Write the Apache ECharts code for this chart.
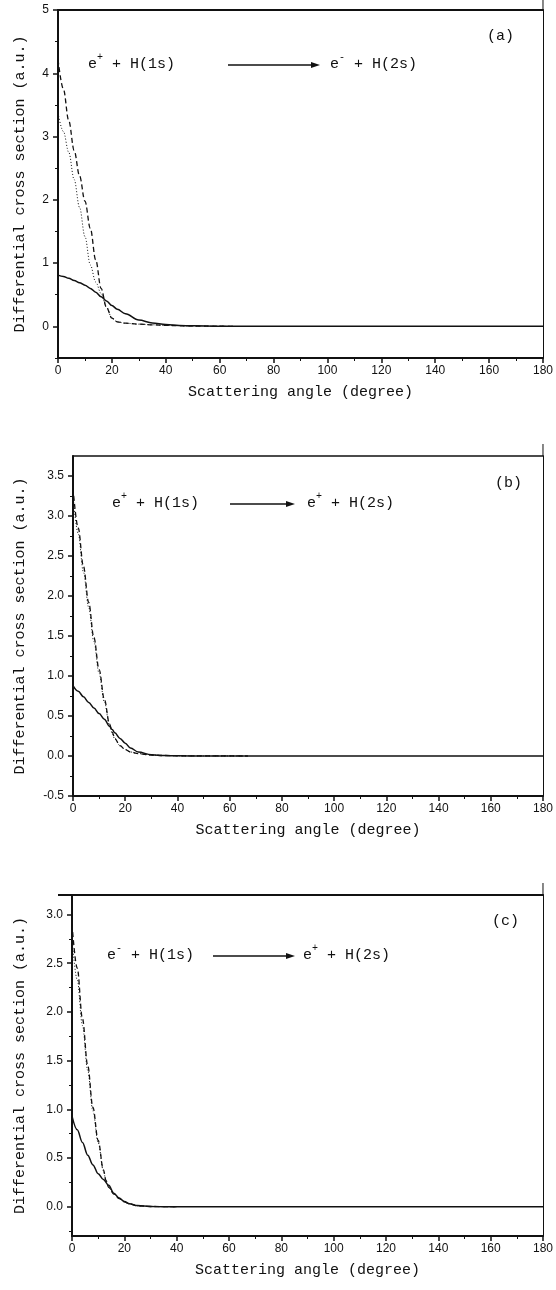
<!DOCTYPE html>
<html><head><meta charset="utf-8">
<script src="https://cdn.jsdelivr.net/npm/echarts@6/dist/echarts.min.js"></script>
<style>html,body{margin:0;padding:0;background:#fff}#c{width:556px;height:1290px}</style>
</head><body><div id="c"></div><script>
// ---------- DATA ----------
// Panel (a): e+ + H(1s) -> e- + H(2s)
const aAngle = [0,2,4,6,8,10,12,14,16,18,20,22,25,30,35,40,45,50,60,70,80,100,120,140,160,180];
const aSolid = [0.81,0.79,0.76,0.725,0.69,0.65,0.60,0.54,0.47,0.40,0.33,0.27,0.20,0.10,0.055,0.03,0.015,0.008,0.002,0,0,0,0,0,0,0];
const aAngleShort = [0,2,4,6,8,10,12,14,16,18,20,22,25,30,35,40,50,60,65];
const aDashed = [4.22,3.75,3.25,2.78,2.38,1.98,1.55,1.05,0.60,0.30,0.13,0.07,0.05,0.035,0.025,0.015,0.006,0.002,0];
const aDotted = [3.37,3.08,2.75,2.32,1.88,1.42,0.97,0.70,0.52,0.30,0.13,0.07,0.05,0.035,0.025,0.015,0.006,0.002,0];
const aYMajor = [0,1,2,3,4,5];
const aYMinor = [-0.5,0.5,1.5,2.5,3.5,4.5];

// Panel (b): e+ + H(1s) -> e+ + H(2s)
const bAngle = [0,2,4,6,8,10,12,14,15,16,18,20,22,25,30,35,40,50,60,80,100,120,140,160,180];
const bSolid = [0.88,0.81,0.74,0.67,0.60,0.53,0.46,0.37,0.33,0.29,0.22,0.16,0.10,0.05,0.015,0.006,0.002,0,0,0,0,0,0,0,0];
const bAngleShort = [0,2,4,6,8,10,12,14,15,16,18,20,22,25,30,35,40,50,67];
const bDashed = [3.35,2.85,2.37,1.92,1.48,1.08,0.71,0.40,0.30,0.22,0.13,0.08,0.05,0.03,0.012,0.006,0.003,0.001,0];
const bDotted = [3.25,2.78,2.30,1.86,1.43,1.03,0.68,0.38,0.29,0.21,0.13,0.08,0.05,0.03,0.012,0.006,0.003,0.001,0];
const bYMajor = [-0.5,0,0.5,1,1.5,2,2.5,3,3.5];
const bYMinor = [-0.25,0.25,0.75,1.25,1.75,2.25,2.75,3.25];

// Panel (c): e- + H(1s) -> e+ + H(2s)
const cAngle = [0,2,4,6,8,10,12,14,16,18,20,22,25,30,35,40,60,80,100,120,140,160,180];
const cSolid = [0.93,0.79,0.66,0.53,0.43,0.34,0.28,0.22,0.14,0.09,0.055,0.03,0.012,0.003,0,0,0,0,0,0,0,0,0];
const cAngleShort = [0,2,4,6,8,10,12,13,14,16,18,20,22,25,30,40];
const cDashed = [2.90,2.45,1.93,1.45,1.02,0.68,0.38,0.27,0.20,0.13,0.085,0.05,0.028,0.01,0.003,0];
const cDotted = [2.75,2.33,1.86,1.40,0.98,0.66,0.37,0.27,0.20,0.13,0.085,0.05,0.028,0.01,0.003,0];
const cYMajor = [0,0.5,1,1.5,2,2.5,3];
const cYMinor = [-0.25,0.25,0.75,1.25,1.75,2.25,2.75];

const xTicks = [0,20,40,60,80,100,120,140,160,180];
const xTitle = 'Scattering angle (degree)';
const yTitle = 'Differential cross section (a.u.)';
const panelLabels = ['(a)','(b)','(c)'];

// ---------- LAYOUT ----------
const panels = [
  {grid:{left:58, top:10, width:487, height:348}, yMin:-0.5, yMax:5, yInt:0.5, major:aYMajor, minor:aYMinor, digits:0, yGap:30, topW:2,
   x:aAngle, s:aSolid, xs:aAngleShort, d:aDashed, o:aDotted},
  {grid:{left:73, top:456, width:472, height:340}, yMin:-0.5, yMax:3.75, yInt:0.25, major:bYMajor, minor:bYMinor, digits:1, yGap:45, topW:1.5,
   x:bAngle, s:bSolid, xs:bAngleShort, d:bDashed, o:bDotted},
  {grid:{left:72, top:895, width:473, height:341}, yMin:-0.3, yMax:3.2, yInt:0.1, major:cYMajor, minor:cYMinor, digits:1, yGap:44, topW:2,
   x:cAngle, s:cSolid, xs:cAngleShort, d:cDashed, o:cDotted}
];

const monoFont = '"Liberation Mono", "DejaVu Sans Mono", monospace';
const sansFont = '"Liberation Sans", Arial, sans-serif';
const ink = '#111';

const grid = [], xAxis = [], yAxis = [], series = [];
panels.forEach((p, i) => {
  grid.push(Object.assign({containLabel:false}, p.grid));
  xAxis.push({
    gridIndex:i, type:'value', min:0, max:180, interval:20, position:'bottom',
    name:xTitle, nameLocation:'middle', nameGap:27,
    nameTextStyle:{fontFamily:monoFont, fontSize:15, color:ink},
    axisLine:{show:true, onZero:false, lineStyle:{color:ink, width:2}},
    axisTick:{show:true, length:5, lineStyle:{color:ink, width:1.5}},
    minorTick:{show:true, splitNumber:2, length:3, lineStyle:{color:ink, width:1}},
    axisLabel:{fontFamily:sansFont, fontSize:12, color:ink, margin:7},
    splitLine:{show:false}
  });
  xAxis.push({
    gridIndex:i, type:'value', min:0, max:180, position:'top',
    axisLine:{show:true, onZero:false, lineStyle:{color:ink, width:p.topW}},
    axisTick:{show:false}, axisLabel:{show:false}, splitLine:{show:false}
  });
  yAxis.push({
    gridIndex:i, type:'value', min:p.yMin, max:p.yMax, interval:p.yInt, position:'left',
    name:yTitle, nameLocation:'middle', nameGap:p.yGap,
    nameTextStyle:{fontFamily:monoFont, fontSize:15, color:ink},
    axisLine:{show:true, onZero:false, lineStyle:{color:ink, width:2}},
    axisTick:{show:true, length:5, customValues:p.major, lineStyle:{color:ink, width:1.5}},
    axisLabel:{fontFamily:sansFont, fontSize:12, color:ink, margin:9, customValues:p.major,
      formatter:(v)=>Number(v).toFixed(p.digits)},
    splitLine:{show:false}
  });
  yAxis.push({
    gridIndex:i, type:'value', min:p.yMin, max:p.yMax, interval:p.yInt, position:'left',
    axisLine:{show:false},
    axisTick:{show:true, length:3, customValues:p.minor, lineStyle:{color:ink, width:1}},
    axisLabel:{show:false}, splitLine:{show:false}
  });
  yAxis.push({
    gridIndex:i, type:'value', min:p.yMin, max:p.yMax, interval:p.yInt, position:'right',
    axisLine:{show:true, onZero:false, lineStyle:{color:ink, width:1}},
    axisTick:{show:false}, axisLabel:{show:false}, splitLine:{show:false}
  });
  const xi = 2*i, yi = 3*i;
  const common = {type:'line', xAxisIndex:xi, yAxisIndex:yi, showSymbol:false, smooth:0.35, smoothMonotone:'x', silent:true};
  series.push(Object.assign({}, common, {name:'dotted'+i, z:2,
    data:p.xs.map((x,k)=>[x,p.o[k]]), lineStyle:{color:ink, width:1, type:[1,2]}}));
  series.push(Object.assign({}, common, {name:'dashed'+i, z:3,
    data:p.xs.map((x,k)=>[x,p.d[k]]), lineStyle:{color:ink, width:1.3, type:[5,3]}}));
  series.push(Object.assign({}, common, {name:'solid'+i, z:4,
    data:p.x.map((x,k)=>[x,p.s[k]]), lineStyle:{color:ink, width:1.5}}));
});

const chart = echarts.init(document.getElementById('c'), null, {renderer:'canvas'});
chart.setOption({animation:false, backgroundColor:'#fff', grid, xAxis, yAxis, series});

// ---------- ANNOTATIONS ----------
const eqFont = '15px ' + monoFont;
const supFont = '10px ' + monoFont;
function eq(x0, y, left, sup1, mid1, a0, a1, x2, sup2, mid2) {
  const g = [];
  const t = (x, yy, txt, f) => g.push({type:'text', x:x, y:yy, silent:true,
    style:{text:txt, font:f, fill:ink, textVerticalAlign:'middle', textAlign:'left'}});
  t(x0, y, 'e', eqFont);
  t(x0+9, y-7, sup1, supFont);
  t(x0+9+6, y, ' + H(1s)', eqFont);
  g.push({type:'line', silent:true, shape:{x1:a0, y1:y+1, x2:a1-7, y2:y+1}, style:{stroke:ink, lineWidth:1.3}});
  g.push({type:'polygon', silent:true, shape:{points:[[a1,y+1],[a1-9,y-2],[a1-9,y+4]]}, style:{fill:ink}});
  t(x2, y, 'e', eqFont);
  t(x2+9, y-7, sup2, supFont);
  t(x2+9+6, y, ' + H(2s)', eqFont);
  return g;
}
const graphic = [];
graphic.push(...eq(88, 64, 'e', '+', '', 228, 320, 330, '-', ''));
graphic.push(...eq(112, 503, 'e', '+', '', 230, 295, 307, '+', ''));
graphic.push(...eq(107, 955, 'e', '-', '', 213, 295, 303, '+', ''));
const lblPos = [[487,36],[495,483],[492,921]];
panelLabels.forEach((l,i)=>graphic.push({type:'text', x:lblPos[i][0], y:lblPos[i][1], silent:true,
  style:{text:l, font:eqFont, fill:ink, textVerticalAlign:'middle'}}));
// right border extends slightly above the frame
panels.forEach((p,i)=>{
  const tr = chart.convertToPixel({gridIndex:i}, [180, p.yMax]);
  graphic.push({type:'line', silent:true, shape:{x1:tr[0], y1:tr[1]-12, x2:tr[0], y2:tr[1]}, style:{stroke:ink, lineWidth:1}});
});
// top frame line of (c) starts left of the y axis
{
  const tl = chart.convertToPixel({gridIndex:2}, [0, panels[2].yMax]);
  graphic.push({type:'line', silent:true, shape:{x1:tl[0]-14, y1:tl[1], x2:tl[0], y2:tl[1]}, style:{stroke:ink, lineWidth:2}});
}
chart.setOption({graphic});
</script></body></html>
